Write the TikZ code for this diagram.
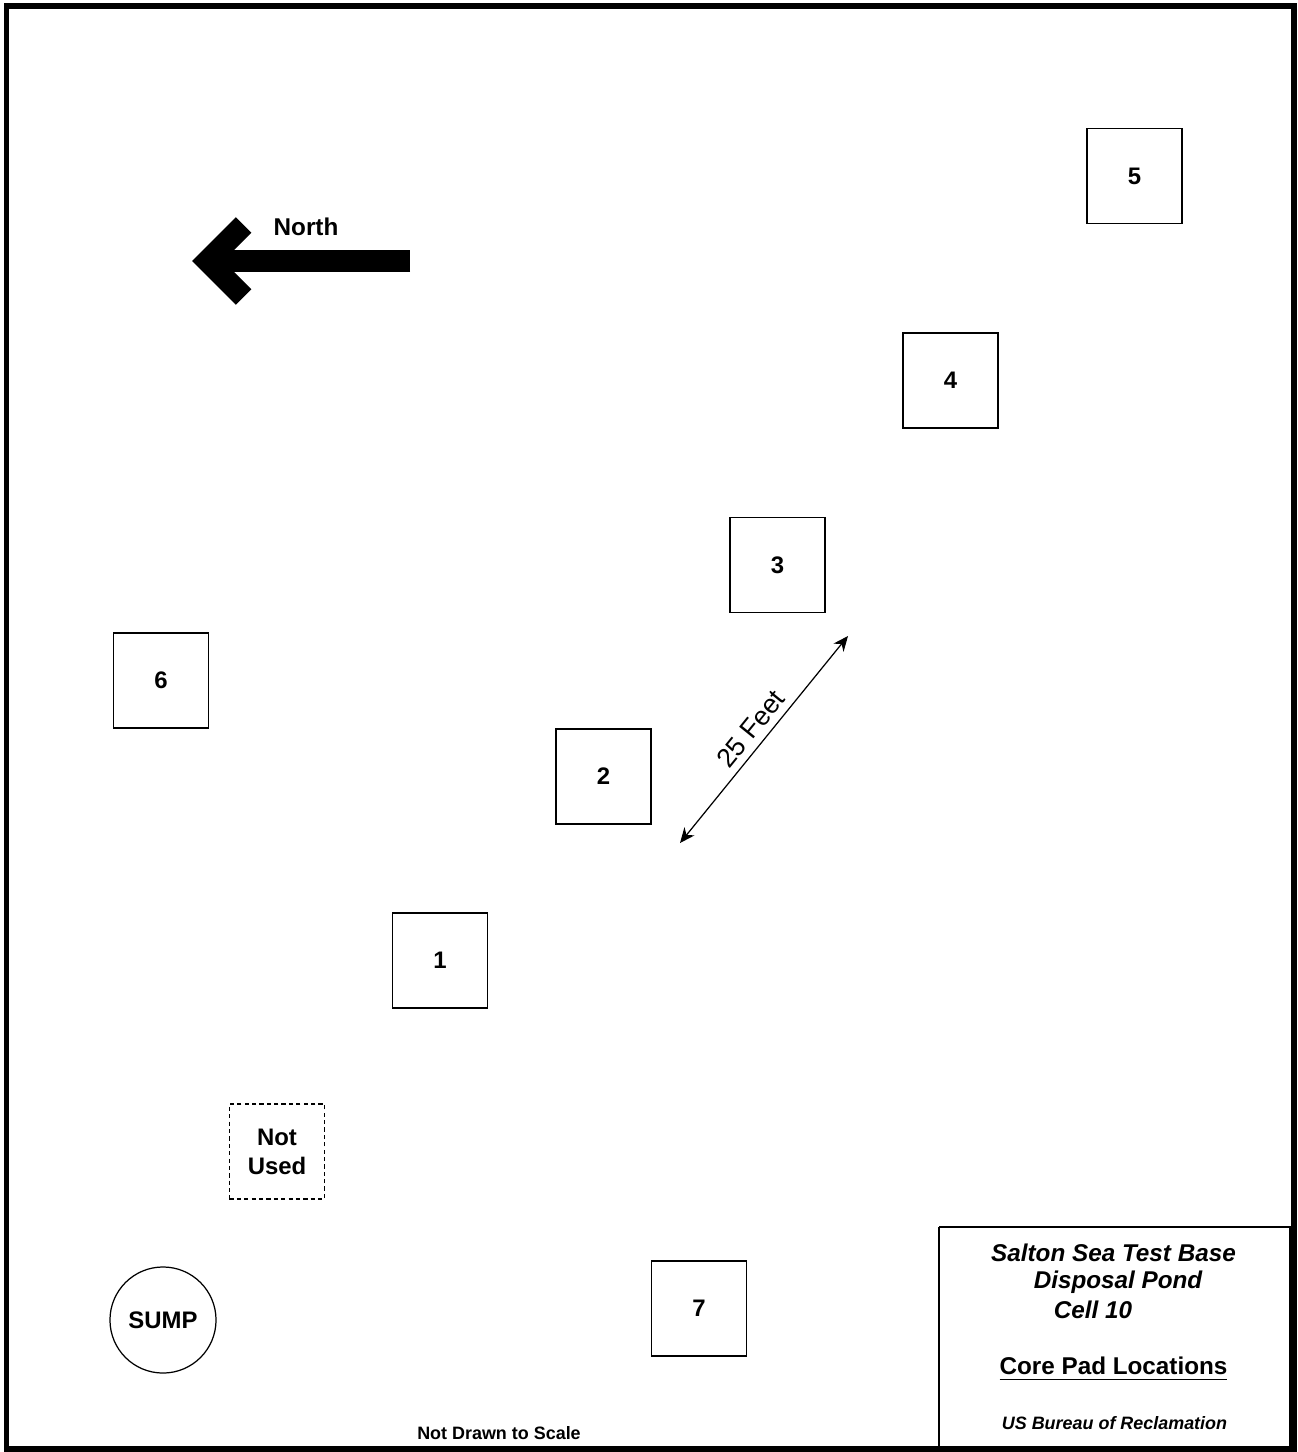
\documentclass[tikz,border=0pt]{standalone}
\usepackage{fontspec}
\setmainfont{Liberation Sans}
\usepackage{tikz}
\usetikzlibrary{positioning, arrows.meta}
\tikzset{
  pad/.style={draw, line width=0.35pt, minimum size=0.95cm, inner sep=0pt,
    font=\bfseries\fontsize{6.8}{8.2}\selectfont, align=center},
  unused/.style={pad, dashed, dash pattern=on 1.2pt off 0.9pt},
  sump/.style={draw, circle, line width=0.35pt, minimum size=1.06cm, inner sep=0pt,
    font=\bfseries\fontsize{6.8}{8.2}\selectfont},
  titletext/.style={font=\bfseries\itshape\fontsize{6.9}{8.2}\selectfont, inner sep=0pt},
  corelabel/.style={font=\bfseries\fontsize{6.9}{8.2}\selectfont, inner sep=0pt},
  smalltext/.style={font=\bfseries\fontsize{5.1}{6}\selectfont, inner sep=0pt},
  dimarrow/.style={{Stealth[length=4.3pt,width=3.7pt]}-{Stealth[length=4.3pt,width=3.7pt]}, line width=0.35pt},
  northarrow/.style={line width=6.26pt},
}

\begin{document}
\begin{tikzpicture}[x=0.01cm, y=-0.01cm]
  \useasboundingbox (0,0) rectangle (1297,1452);
  % frame and title block
  \draw[line width=1.7pt] (6.5,6) rectangle (1294,1449);
  \draw[line width=0.35pt] (939,1227) -- (1290,1227) -- (1290,1449);
  \draw[line width=0.35pt] (939,1227) -- (939,1449);

  % north arrow
  \draw[northarrow] (410,261) -- (207,261);
  \draw[northarrow, miter limit=4] (243.6,225) -- (207.6,261) -- (243.6,297);
  \node[corelabel] (north) at (306,227) {North};

  % core pads
  \node[pad] (p5) at (1134.5,176) {5};
  \node[pad] (p4) at (950.5,380.5) {4};
  \node[pad] (p3) at (777.5,565) {3};
  \node[pad] (p6) at (161,680.5) {6};
  \node[pad] (p2) at (603.5,776.5) {2};
  \node[pad] (p1) at (440,960.5) {1};
  \node[pad] (p7) at (699,1308.5) {7};
  \node[unused] (nu) at (277,1151.5) {Not\\Used};
  \node[sump] (sump) at (163,1320) {SUMP};

  % 25 foot spacing
  \coordinate (dA) at (680,843);
  \coordinate (dB) at (848,636);
  \draw[dimarrow] (dA) -- (dB) node[midway, sloped, above, inner sep=2pt,
    font=\fontsize{7.6}{9}\selectfont] (dimlbl) {25 Feet};

  % title block text
  \node[titletext] (t1) at (1113.5,1253) {Salton Sea Test Base};
  \node[titletext] (t2) at (1118,1282) {Disposal Pond};
  \node[titletext] (t3) at (1093,1310) {Cell 10};
  \node[corelabel] (t4) at (1113.5,1369) {\underline{Core Pad Locations}};
  \node[smalltext, font=\bfseries\itshape\fontsize{5.1}{6}\selectfont] (t5) at (1114.5,1423) {US Bureau of Reclamation};

  \node[smalltext] (scale) at (499,1433) {Not Drawn to Scale};
\end{tikzpicture}
\end{document}
